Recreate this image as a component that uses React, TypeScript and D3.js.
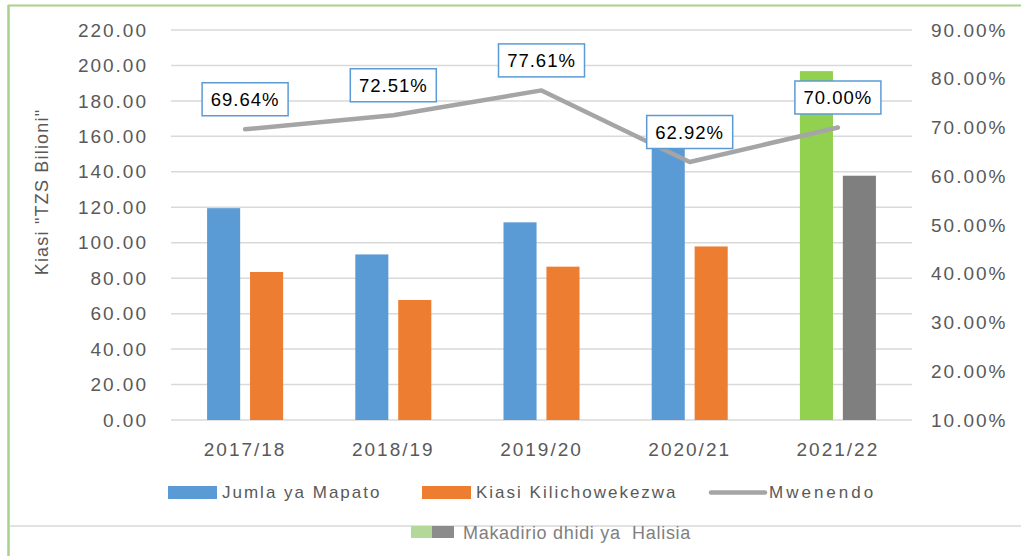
import { useEffect, useRef } from "react";
import * as d3 from "d3";

const years = ["2017/18", "2018/19", "2019/20", "2020/21", "2021/22"];
const mapato = [119.5, 93.4, 111.5, 155.5, 196.8];
const kiasi = [83.5, 67.7, 86.5, 97.9, 137.8];
const mwenendo = [69.64, 72.51, 77.61, 62.92, 70.0];
const leftTicks = [0, 20, 40, 60, 80, 100, 120, 140, 160, 180, 200, 220];
const rightTicks = [10, 20, 30, 40, 50, 60, 70, 80, 90];
const colorsA = ["#5B9BD5", "#5B9BD5", "#5B9BD5", "#5B9BD5", "#92D050"];
const colorsB = ["#ED7D31", "#ED7D31", "#ED7D31", "#ED7D31", "#7F7F7F"];

const W = 1021;
const H = 556;

export default function App() {
  const ref = useRef<SVGSVGElement>(null);

  useEffect(() => {
    const svg = d3.select(ref.current);
    svg.selectAll("*").remove();

    const margin = { top: 30, left: 171, right: 109, bottom: 136 };
    const width = W - margin.left - margin.right;
    const height = 420 - margin.top;
    const font = "'Liberation Sans', Arial, sans-serif";

    // frame
    svg.append("rect").attr("x", 0).attr("y", 0).attr("width", W).attr("height", H).attr("fill", "#fff");
    svg.append("line").attr("x1", 8.5).attr("x2", 8.5).attr("y1", 5).attr("y2", H)
      .attr("stroke", "#A9D18E").attr("stroke-width", 2.5);
    svg.append("line").attr("x1", 8).attr("x2", W).attr("y1", 5.5).attr("y2", 5.5)
      .attr("stroke", "#A9D18E").attr("stroke-width", 2);
    svg.append("line").attr("x1", 10).attr("x2", W).attr("y1", 526).attr("y2", 526)
      .attr("stroke", "#D9D9D9").attr("stroke-width", 1.5);

    const g = svg.append("g").attr("transform", `translate(${margin.left},${margin.top})`);

    const x0 = d3.scaleBand().domain(years).range([0, width]).paddingInner(0.487).paddingOuter(0.2435);
    const x1 = d3.scaleBand().domain(["a", "b"]).range([0, x0.bandwidth()]).paddingInner(0.23);
    const y = d3.scaleLinear().domain([0, 220]).range([height, 0]);
    const y2 = d3.scaleLinear().domain([10, 90]).range([height, 0]);
    const cx = (d: string) => (x0(d) as number) + x0.bandwidth() / 2;

    // gridlines
    g.append("g").selectAll("line").data(leftTicks).enter().append("line")
      .attr("x1", 0).attr("x2", width)
      .attr("y1", d => y(d)).attr("y2", d => y(d))
      .attr("stroke", "#D9D9D9").attr("stroke-width", 1.5);

    // left ticks
    g.append("g").selectAll("text").data(leftTicks).enter().append("text")
      .attr("x", -23).attr("y", d => y(d)).attr("dy", "0.35em")
      .attr("text-anchor", "end").attr("fill", "#595959")
      .style("font-family", font).style("font-size", "19px").style("letter-spacing", "2px")
      .text(d => d3.format(".2f")(d));

    // right ticks
    g.append("g").selectAll("text").data(rightTicks).enter().append("text")
      .attr("x", width + 19).attr("y", d => y2(d)).attr("dy", "0.35em")
      .attr("fill", "#595959")
      .style("font-family", font).style("font-size", "19px").style("letter-spacing", "2px")
      .text(d => d3.format(".2f")(d) + "%");

    // x labels
    g.append("g").selectAll("text").data(years).enter().append("text")
      .attr("x", d => cx(d)).attr("y", height + 29).attr("dy", "0.35em")
      .attr("text-anchor", "middle").attr("fill", "#595959")
      .style("font-family", font).style("font-size", "19px").style("letter-spacing", "2px")
      .text(d => d);

    // y title
    svg.append("text")
      .attr("transform", "translate(48,192) rotate(-90)")
      .attr("text-anchor", "middle").attr("fill", "#595959")
      .style("font-family", font).style("font-size", "18px").style("letter-spacing", "1.2px")
      .text('Kiasi "TZS Bilioni"');

    // bars
    const groups = g.append("g").selectAll("g").data(years).enter().append("g")
      .attr("transform", d => `translate(${x0(d)},0)`);
    groups.append("rect")
      .attr("x", x1("a") as number).attr("width", x1.bandwidth())
      .attr("y", (d, i) => y(mapato[i])).attr("height", (d, i) => height - y(mapato[i]))
      .attr("fill", (d, i) => colorsA[i]);
    groups.append("rect")
      .attr("x", x1("b") as number).attr("width", x1.bandwidth())
      .attr("y", (d, i) => y(kiasi[i])).attr("height", (d, i) => height - y(kiasi[i]))
      .attr("fill", (d, i) => colorsB[i]);

    // line
    const line = d3.line<number>().x((d, i) => cx(years[i])).y(d => y2(d));
    g.append("path").datum(mwenendo).attr("d", line)
      .attr("fill", "none").attr("stroke", "#A5A5A5").attr("stroke-width", 4.5)
      .attr("stroke-linecap", "round").attr("stroke-linejoin", "round");

    // labels
    const lbl = g.append("g").selectAll("g").data(mwenendo).enter().append("g")
      .attr("transform", (d, i) => `translate(${cx(years[i])},${y2(d) - 30})`);
    lbl.append("rect").attr("x", -43).attr("y", -16.5).attr("width", 86).attr("height", 33)
      .attr("fill", "#fff").attr("stroke", "#5B9BD5").attr("stroke-width", 1.5);
    lbl.append("text").attr("text-anchor", "middle").attr("dy", "0.36em").attr("fill", "#000")
      .style("font-family", font).style("font-size", "18.5px").style("letter-spacing", "1px")
      .text(d => d3.format(".2f")(d) + "%");

    // legend
    const leg = svg.append("g").style("font-family", font).style("font-size", "17px")
      .style("letter-spacing", "2px").attr("fill", "#595959");
    const items = [
      { name: "Jumla ya Mapato", color: "#5B9BD5", x: 168, type: "rect" },
      { name: "Kiasi Kilichowekezwa", color: "#ED7D31", x: 422, type: "rect" },
      { name: "Mwenendo", color: "#A5A5A5", x: 711, type: "line" },
    ];
    items.forEach(it => {
      if (it.type === "rect") {
        leg.append("rect").attr("x", it.x).attr("y", 486).attr("width", 49).attr("height", 13).attr("fill", it.color);
        leg.append("text").attr("x", it.x + 54).attr("y", 492.5).attr("dy", "0.35em").text(it.name);
      } else {
        leg.append("line").attr("x1", it.x).attr("x2", it.x + 54).attr("y1", 492.5).attr("y2", 492.5)
          .attr("stroke", it.color).attr("stroke-width", 4.5).attr("stroke-linecap", "round");
        leg.append("text").attr("x", it.x + 58).attr("y", 492.5).attr("dy", "0.35em")
          .style("letter-spacing", "3px").text(it.name);
      }
    });

    // bottom legend
    svg.append("rect").attr("x", 411).attr("y", 526).attr("width", 21).attr("height", 12).attr("fill", "#B4D79A");
    svg.append("rect").attr("x", 432).attr("y", 526).attr("width", 22).attr("height", 12).attr("fill", "#8C8C8C");
    svg.append("text").attr("x", 463).attr("y", 533).attr("dy", "0.35em").attr("fill", "#808080")
      .style("font-family", font).style("font-size", "18px").style("letter-spacing", "0.7px")
      .style("white-space", "pre")
      .text("Makadirio dhidi ya  Halisia");
  }, []);

  return (
    <svg ref={ref} width={W} height={H}
      style={{ position: "absolute", left: 0, top: 0, display: "block" }} />
  );
}
